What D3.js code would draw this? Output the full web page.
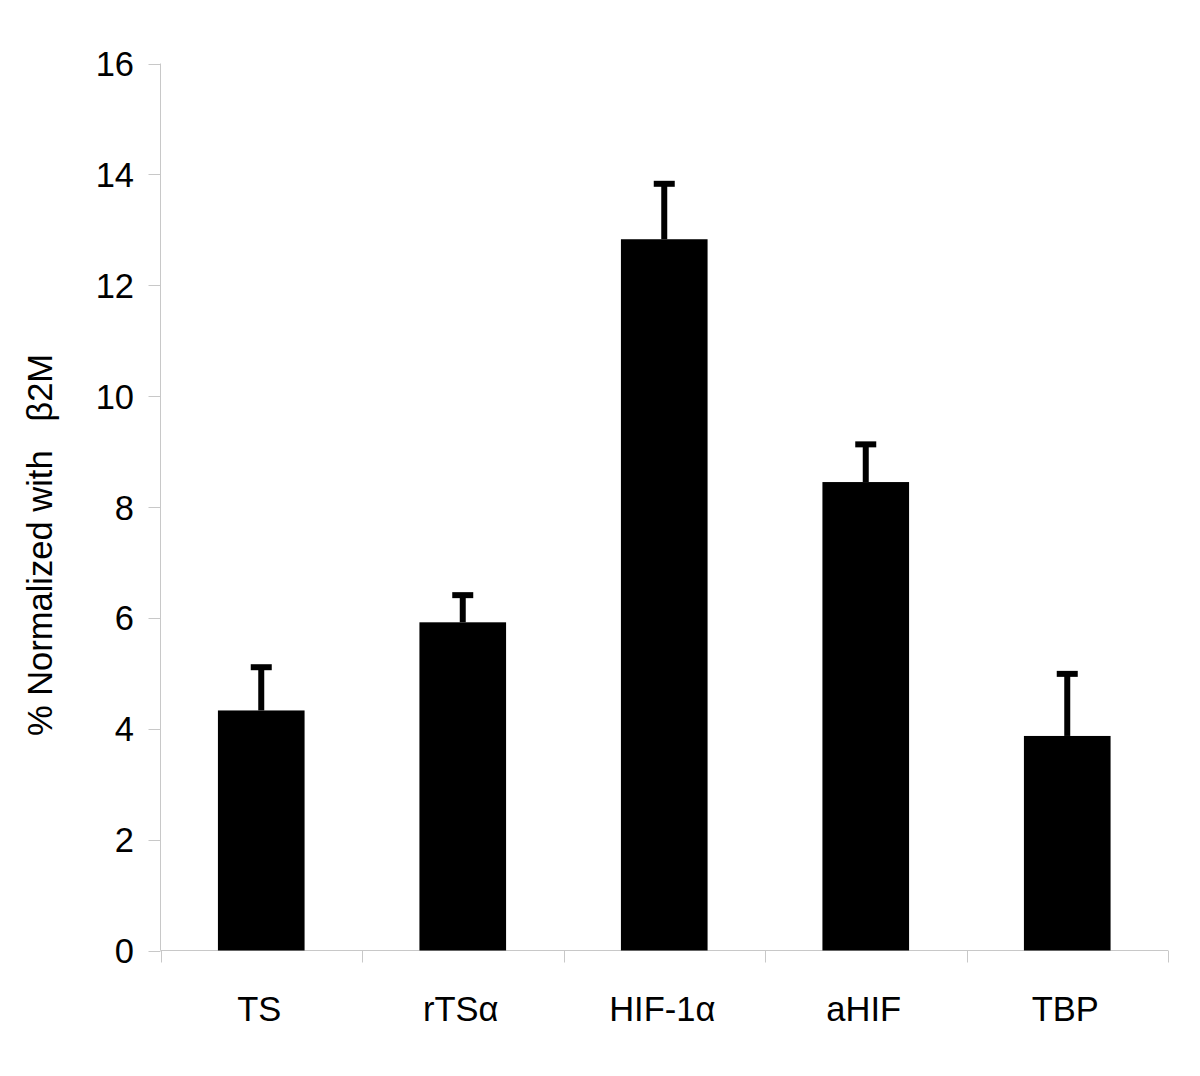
<!DOCTYPE html>
<html><head><meta charset="utf-8">
<script src="https://cdn.jsdelivr.net/npm/d3@7"></script>
<style>body{margin:0;background:#fff}svg{display:block}text{font-family:"Liberation Sans",Arial,sans-serif}</style>
</head><body><svg id="c" width="1200" height="1076"></svg>
<script>
const categories = ["TS", "rTSα", "HIF-1α", "aHIF", "TBP"];
const values = [4.33, 5.92, 12.83, 8.45, 3.87];
const errorTops = [5.11, 6.41, 13.83, 9.13, 4.99];
const yTicks = [0, 2, 4, 6, 8, 10, 12, 14, 16];
const yLabel = "% Normalized with   β2M";

(function () {
const svg = d3.select("#c");
const mLeft = 160.5, mRight = 1168, mTop = 63.5, mBottom = 950.5;
const x = d3.scaleBand().domain(categories).range([mLeft, mRight]).paddingInner(0.57).paddingOuter(0.285);
const y = d3.scaleLinear().domain([0, 16]).range([mBottom, mTop]);
const axisColor = "#c8c8c8";
const fs = 34.5;

// y axis
svg.append("line").attr("x1", mLeft).attr("x2", mLeft).attr("y1", mTop).attr("y2", mBottom).attr("stroke", axisColor).attr("stroke-width", 1);
svg.selectAll(".yt").data(yTicks).enter().append("line")
  .attr("x1", mLeft - 12).attr("x2", mLeft).attr("y1", d => Math.round(y(d)) + 0.5).attr("y2", d => Math.round(y(d)) + 0.5)
  .attr("stroke", axisColor);
svg.selectAll(".yl").data(yTicks).enter().append("text")
  .attr("x", 134).attr("y", d => y(d) + 12.5).attr("text-anchor", "end")
  .attr("font-size", fs).text(d => d);

// x axis
svg.append("line").attr("x1", mLeft).attr("x2", mRight).attr("y1", mBottom).attr("y2", mBottom).attr("stroke", axisColor);
const step = (mRight - mLeft) / categories.length;
const xTickPos = d3.range(categories.length + 1).map(i => mLeft + i * step);
svg.selectAll(".xt").data(xTickPos).enter().append("line")
  .attr("x1", d => Math.round(d) + 0.5).attr("x2", d => Math.round(d) + 0.5).attr("y1", mBottom).attr("y2", mBottom + 12)
  .attr("stroke", axisColor);
svg.selectAll(".xl").data(categories).enter().append("text")
  .attr("x", d => x(d) + x.bandwidth() / 2 - 2).attr("y", 1020.5).attr("text-anchor", "middle")
  .attr("font-size", fs).text(d => d);

const data = categories.map((c, i) => ({c, v: values[i], e: errorTops[i]}));
// error bars
svg.selectAll(".stem").data(data).enter().append("line")
  .attr("x1", d => x(d.c) + x.bandwidth() / 2).attr("x2", d => x(d.c) + x.bandwidth() / 2)
  .attr("y1", d => y(d.v)).attr("y2", d => y(d.e))
  .attr("stroke", "#000").attr("stroke-width", 6);
svg.selectAll(".cap").data(data).enter().append("line")
  .attr("x1", d => x(d.c) + x.bandwidth() / 2 - 10.5).attr("x2", d => x(d.c) + x.bandwidth() / 2 + 10.5)
  .attr("y1", d => y(d.e)).attr("y2", d => y(d.e))
  .attr("stroke", "#000").attr("stroke-width", 6);

// bars
svg.selectAll(".bar").data(data).enter().append("rect")
  .attr("x", d => x(d.c)).attr("width", x.bandwidth())
  .attr("y", d => y(d.v)).attr("height", d => y(0) - y(d.v))
  .attr("fill", "#000");

// y label
svg.append("text").attr("transform", "translate(52,545) rotate(-90)")
  .attr("text-anchor", "middle").attr("font-size", fs).style("white-space", "pre").text(yLabel);
})();
</script></body></html>
